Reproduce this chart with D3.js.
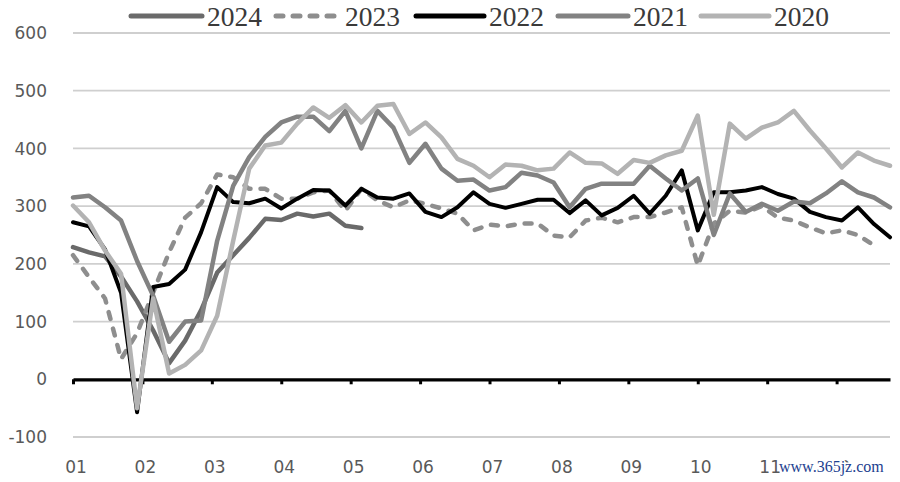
<!DOCTYPE html>
<html><head><meta charset="utf-8">
<script src="https://cdn.jsdelivr.net/npm/d3@7"></script>
<style>
html,body{margin:0;padding:0;background:#fff;}
svg{display:block;}
</style></head>
<body>
<svg id="chart" width="900" height="482"></svg>
<script>
// ---- data (weekly values) ----
const seriesNames = ["2024", "2023", "2022", "2021", "2020"];
const monthLabels = ["01","02","03","04","05","06","07","08","09","10","11","12"];
const yTicks = [-100, 0, 100, 200, 300, 400, 500, 600];

const v2024 = [229,220,213,178,135,85,28,67,120,185,215,245,278,276,287,282,287,266,262];
const v2023 = [215,177,140,35,80,150,220,280,305,355,350,330,330,313,313,324,327,292,330,310,298,310,304,296,287,258,268,265,270,270,249,246,275,280,272,281,281,289,298,197,270,292,289,300,280,275,263,253,258,250,232];
const v2022 = [272,265,225,150,-57,160,165,190,255,333,307,305,313,296,313,328,327,301,330,315,313,322,290,281,298,324,304,297,304,311,311,288,310,284,297,318,287,318,362,258,324,324,327,333,321,313,290,281,275,298,269,246];
const v2021 = [315,318,298,275,205,145,65,100,102,240,335,385,420,445,455,455,430,465,400,465,436,375,408,365,344,346,327,333,358,353,341,298,330,339,339,339,370,348,327,348,250,322,290,304,292,308,305,322,343,324,315,298];
const v2020 = [301,272,223,183,-50,140,10,25,50,110,240,365,405,410,443,471,453,475,445,474,477,425,445,419,382,370,350,372,370,362,365,393,375,374,356,380,375,388,396,457,285,443,417,436,445,465,431,400,367,393,379,370];

const seriesValues = [v2024, v2023, v2022, v2021, v2020];
const seriesColors = ["#6a6a6a", "#8e8e8e", "#000000", "#828282", "#b3b3b3"];
const seriesDash = [null, "7,10", null, null, null];

// ---- layout ----
const svg = d3.select("#chart");
const x = d3.scaleLinear().domain([0, 51]).range([73, 890]);
const y = d3.scaleLinear().domain([-100, 600]).range([437, 33]);
const weeksPerMonth = 52 / 12;

// gridlines
svg.append("g").selectAll("line").data(yTicks.filter(d => d !== 0)).join("line")
  .attr("x1", x(0)).attr("x2", x(51))
  .attr("y1", d => y(d)).attr("y2", d => y(d))
  .attr("stroke", "#cfcfcf").attr("stroke-width", 1.8);

// y axis labels
svg.append("g").selectAll("text").data(yTicks).join("text")
  .attr("x", 47).attr("y", d => y(d)).attr("dy", "0.36em")
  .attr("text-anchor", "end")
  .attr("font-family", "DejaVu Sans").attr("font-size", 17)
  .attr("fill", "#595959")
  .text(d => d);

// zero axis with ticks
const xAxis = d3.axisBottom(x)
  .tickValues(monthLabels.map((m, i) => i * weeksPerMonth))
  .tickSize(5).tickSizeOuter(0).tickFormat("");
const gx = svg.append("g").attr("transform", `translate(0,${y(0)})`).call(xAxis);
gx.select(".domain").attr("stroke", "#000").attr("stroke-width", 3.2);
gx.selectAll(".tick line").attr("stroke", "#000").attr("stroke-width", 3);

// month labels
svg.append("g").selectAll("text").data(monthLabels).join("text")
  .attr("x", (d, i) => x(i * weeksPerMonth) + 3).attr("y", 473)
  .attr("text-anchor", "middle")
  .attr("font-family", "DejaVu Sans").attr("font-size", 17)
  .attr("fill", "#595959")
  .text(d => d);

// lines
const line = d3.line().x((d, i) => x(i)).y(d => y(d)).curve(d3.curveLinear);
seriesValues.forEach((vals, k) => {
  const p = svg.append("path").datum(vals)
    .attr("d", line)
    .attr("fill", "none")
    .attr("stroke", seriesColors[k])
    .attr("stroke-width", k === 2 ? 4 : 4.5)
    .attr("stroke-linejoin", "round")
    .attr("stroke-linecap", "round");
  if (seriesDash[k]) p.attr("stroke-dasharray", seriesDash[k]);
});

// legend
const legendItems = [
  {line: [131, 202], text: 207},
  {line: [276, 339], text: 345},
  {line: [416, 484], text: 489},
  {line: [558, 628], text: 633},
  {line: [701, 769], text: 774}
];
const lg = svg.append("g");
seriesNames.forEach((name, k) => {
  const it = legendItems[k];
  const l = lg.append("line")
    .attr("x1", it.line[0]).attr("x2", it.line[1])
    .attr("y1", 16).attr("y2", 16)
    .attr("stroke", seriesColors[k]).attr("stroke-width", 5)
    .attr("stroke-linecap", "round");
  if (seriesDash[k]) l.attr("stroke-dasharray", "7,10");
  lg.append("text")
    .attr("x", it.text).attr("y", 26)
    .attr("font-family", "Liberation Serif").attr("font-size", 28)
    .attr("fill", "#3a3a3a")
    .attr("textLength", 55).attr("lengthAdjust", "spacingAndGlyphs")
    .text(name);
});

// watermark
svg.append("text")
  .attr("x", 779).attr("y", 472)
  .attr("font-family", "Liberation Serif").attr("font-size", 16)
  .attr("fill", "#1d3f8f")
  .attr("stroke", "#fff").attr("stroke-width", 3).attr("paint-order", "stroke")
  .text("www.365jz.com");
</script>
</body></html>
